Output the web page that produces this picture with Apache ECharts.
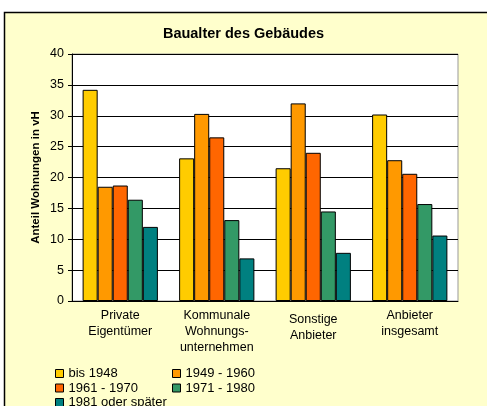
<!DOCTYPE html>
<html>
<head>
<meta charset="utf-8">
<script src="https://cdn.jsdelivr.net/npm/echarts@6/dist/echarts.min.js"></script>
<style>
html, body { margin: 0; padding: 0; background: #fff; }
#chart { width: 487px; height: 406px; }
</style>
</head>
<body>
<div id="chart"></div>
<script>
// Kategorien und Werte (Anteil Wohnungen in vH)
var categories = ['Private\nEigentümer', 'Kommunale\nWohnungs-\nunternehmen', 'Sonstige\nAnbieter', 'Anbieter\ninsgesamt'];
var seriesNames = ['bis 1948', '1949 - 1960', '1961 - 1970', '1971 - 1980', '1981 oder später'];
var bis1948 = [34.2, 23.1, 21.5, 30.2];
var v1949_1960 = [18.5, 30.3, 32.0, 22.8];
var v1961_1970 = [18.7, 26.5, 24.0, 20.6];
var v1971_1980 = [16.4, 13.1, 14.5, 15.7];
var ab1981 = [12.0, 6.9, 7.8, 10.6];
var yTicks = [0, 5, 10, 15, 20, 25, 30, 35, 40];

var colors = ['#FFCC00', '#FF9900', '#FF6600', '#339966', '#008080'];
var values = [bis1948, v1949_1960, v1961_1970, v1971_1980, ab1981];
var font = '"Liberation Sans", Arial, sans-serif';

var chart = echarts.init(document.getElementById('chart'));

var series = seriesNames.map(function (name, i) {
    return {
        name: name,
        type: 'bar',
        data: values[i],
        barGap: 0,
        barCategoryGap: '22%',
        itemStyle: { color: colors[i], borderColor: '#000', borderWidth: 1 },
        emphasis: { disabled: true }
    };
});

var catData = categories.map(function (c, i) {
    // Excel setzt "Sonstige Anbieter" etwas tiefer
    if (i === 2) return { value: c, textStyle: { padding: [4, 0, 0, 0] } };
    return c;
});

var legendText = { fontFamily: font, fontSize: 13, color: '#000' };

var option = {
    animation: false,
    backgroundColor: '#fff',
    color: colors,
    graphic: [{
        type: 'rect',
        z: -10,
        shape: { x: 4.5, y: 12.5, width: 500, height: 420 },
        style: { fill: '#FFFFCC', stroke: '#000', lineWidth: 1.5 }
    }],
    title: {
        text: 'Baualter des Gebäudes',
        left: 'center',
        top: 21,
        textStyle: { fontFamily: font, fontSize: 14.5, fontWeight: 'bold', color: '#000' }
    },
    legend: [{
        data: ['bis 1948', '1961 - 1970', '1981 oder später'],
        orient: 'vertical',
        left: 55,
        top: 367,
        height: 80,
        itemWidth: 8,
        itemHeight: 8,
        itemGap: 1.5,
        icon: 'rect',
        itemStyle: { borderColor: '#000', borderWidth: 1 },
        textStyle: legendText,
        padding: 0
    }, {
        data: ['1949 - 1960', '1971 - 1980'],
        orient: 'vertical',
        left: 172,
        top: 367,
        height: 80,
        itemWidth: 8,
        itemHeight: 8,
        itemGap: 1.5,
        icon: 'rect',
        itemStyle: { borderColor: '#000', borderWidth: 1 },
        textStyle: legendText,
        padding: 0
    }],
    grid: {
        left: 72,
        top: 54,
        right: 29,
        bottom: 105,
        show: true,
        backgroundColor: '#fff',
        borderColor: '#999',
        borderWidth: 1
    },
    xAxis: {
        type: 'category',
        data: catData,
        axisLine: { lineStyle: { color: '#000', width: 1 } },
        axisTick: { show: false },
        axisLabel: {
            interval: 0,
            margin: 7,
            lineHeight: 16,
            fontFamily: font,
            fontSize: 12.5,
            color: '#000'
        }
    },
    yAxis: {
        type: 'value',
        min: yTicks[0],
        max: yTicks[yTicks.length - 1],
        interval: 5,
        name: 'Anteil Wohnungen in vH',
        nameLocation: 'middle',
        nameGap: 30,
        nameMoveOverlap: false,
        nameTextStyle: { fontFamily: font, fontSize: 11.5, fontWeight: 'bold', color: '#000' },
        axisLine: { show: true, lineStyle: { color: '#000', width: 1 } },
        axisTick: { show: true, length: 4, lineStyle: { color: '#000' } },
        axisLabel: { margin: 8, fontFamily: font, fontSize: 12.5, color: '#000' },
        splitLine: { lineStyle: { color: '#000', width: 1 } }
    },
    series: series
};

chart.setOption(option);
</script>
</body>
</html>
